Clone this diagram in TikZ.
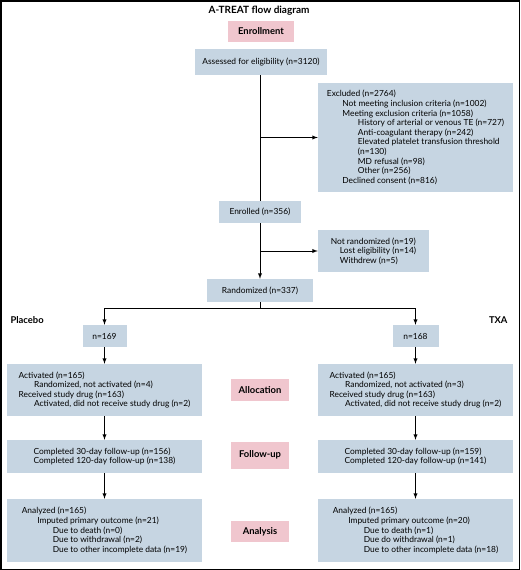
\documentclass[tikz,border=0pt]{standalone}
\usepackage{fontspec}
\setmainfont{Lato}
\usepackage{tikz}

\definecolor{boxblue}{RGB}{198,213,226}
\definecolor{stagepink}{RGB}{240,198,206}
\newcommand{\boxfont}{\fontsize{8.4}{9.6}\selectfont}
\newcommand{\stagefont}{\fontsize{9.4}{11}\selectfont\bfseries}
\newcommand{\ia}{\hspace*{15.5pt}}
\newcommand{\ib}{\hspace*{31pt}}

\tikzset{
  box/.style={fill=boxblue,inner sep=0pt,font=\boxfont,align=left},
  stage/.style={fill=stagepink,inner sep=0pt,font=\stagefont,minimum width=58pt},
  arm/.style={font=\stagefont},
  flow/.style={line width=0.9pt},
}

\begin{document}
\begin{tikzpicture}[x=1pt,y=-1pt]
          \useasboundingbox (0,0) rectangle (520,570);
          \draw[line width=1.5pt] (0.75,0.75) rectangle (519.25,569.25);
          \node[font=\fontsize{10}{12}\selectfont\bfseries] (title) at (259,11) {A-TREAT flow diagram};
          \node[stage,minimum width=66pt,minimum height=21pt] (enrol) at (261,31.5) {Enrollment};
          \node[box,minimum width=132pt,minimum height=26pt] (assess) at (261,62) {Assessed for eligibility (n=3120)};
          \node[box,minimum width=195pt,minimum height=109pt] (excl) at (415.5,137.5) {Excluded (n=2764)\\
            \ia Not meeting inclusion criteria (n=1002)\\
            \ia Meeting exclusion criteria (n=1058)\\
            \ib History of arterial or venous TE (n=727)\\
            \ib Anti-coagulant therapy (n=242)\\
            \ib Elevated platelet transfusion threshold\\
            \ib (n=130)\\
            \ib MD refusal (n=98)\\
            \ib Other (n=256)\\
            \ia Declined consent (n=816)};
          \node[box,minimum width=82pt,minimum height=22pt] (enrolled) at (260,212) {Enrolled (n=356)};
          \node[box,minimum width=111pt,minimum height=42pt] (notrand) at (373.5,251) {Not randomized (n=19)\\
            \hspace*{9pt}Lost eligibility (n=14)\\
            \hspace*{9pt}Withdrew (n=5)};
          \node[box,minimum width=106pt,minimum height=23pt] (rand) at (260,290.5) {Randomized (n=337)};
          \coordinate (split) at (260,308);
          \node[arm,anchor=west] (placebo) at (7,320) {Placebo};
          \node[arm,anchor=east] (txa) at (511,320) {TXA};
          \node[box,minimum width=44pt,minimum height=22pt] (n169) at (104.5,336) {n=169};
          \node[box,minimum width=46pt,minimum height=22pt] (n168) at (415.5,336) {n=168};
          % allocation
          \node[box,minimum width=195pt,minimum height=52pt] (actp) at (104.5,390) {Activated (n=165)\\
            \ia Randomized, not activated (n=4)\\
            Received study drug (n=163)\\
            \ia Activated, did not receive study drug (n=2)};
          \node[stage,minimum height=22pt] (alloc) at (260,390) {Allocation};
          \node[box,minimum width=195pt,minimum height=52pt] (actt) at (415.5,390) {Activated (n=165)\\
            \ia Randomized, not activated (n=3)\\
            Received study drug (n=163)\\
            \ia Activated, did not receive study drug (n=2)};
          % follow-up
          \node[box,minimum width=195pt,minimum height=33pt] (fup) at (104.5,456.5) {Completed 30-day follow-up (n=156)\\
            Completed 120-day follow-up (n=138)};
          \node[stage,minimum height=27pt] (follow) at (260,455) {Follow-up};
          \node[box,minimum width=195pt,minimum height=33pt] (fut) at (415.5,456.5) {Completed 30-day follow-up (n=159)\\
            Completed 120-day follow-up (n=141)};
          % analysis
          \node[box,minimum width=195pt,minimum height=63pt] (anp) at (104.5,530.5) {Analyzed (n=165)\\
            \ia Imputed primary outcome (n=21)\\
            \ib Due to death (n=0)\\
            \ib Due to withdrawal (n=2)\\
            \ib Due to other incomplete data (n=19)};
          \node[stage,minimum height=21pt] (analysis) at (260,531.5) {Analysis};
          \node[box,minimum width=195pt,minimum height=63pt] (ant) at (415.5,530.5) {Analyzed (n=165)\\
            \ia Imputed primary outcome (n=20)\\
            \ib Due to death (n=1)\\
            \ib Due do withdrawal (n=1)\\
            \ib Due to other incomplete data (n=18)};
          % connectors
          \draw[flow] (assess.south -| enrolled) -- (enrolled);
          \draw[flow,-latex] (enrolled |- excl.west) -- (excl.west);
          \draw[flow,-latex] (enrolled |- notrand.west) -- (notrand.west);
          \draw[flow,-latex] (enrolled) -- (rand);
          \draw[flow] (rand) -- (split);
          \draw[flow,-latex] (split) -| (n169);
          \draw[flow,-latex] (split) -| (n168);
          \draw[flow,-latex] (n169) -- (actp);
          \draw[flow,-latex] (n168) -- (actt);
          \draw[flow,-latex] (actp) -- (fup);
          \draw[flow,-latex] (actt) -- (fut);
          \draw[flow,-latex] (fup) -- (anp);
          \draw[flow,-latex] (fut) -- (ant);
        \end{tikzpicture}
\end{document}
